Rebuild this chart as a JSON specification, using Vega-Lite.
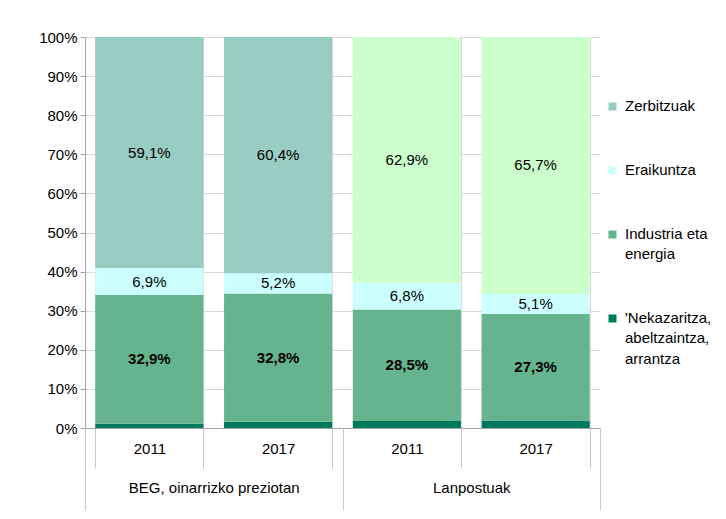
{
  "$schema": "https://vega.github.io/schema/vega-lite/v6.json",
  "width": 515,
  "height": 391,
  "padding": {"left": 38, "top": 30, "right": 5, "bottom": 5},
  "background": "white",
  "config": {
    "locale": {"number": {"decimal": ",", "thousands": ".", "grouping": [3], "currency": ["", " €"]}},
    "font": "Liberation Sans",
    "view": {"stroke": null},
    "axis": {"labelFontSize": 15, "labelColor": "#000", "labelFont": "Liberation Sans"}
  },
  "data": {
    "values": [
      {"key": "BEG 2011", "group": "BEG, oinarrizko preziotan", "sector": "'Nekazaritza, abeltzaintza, arrantza", "value": 0.011},
      {"key": "BEG 2011", "group": "BEG, oinarrizko preziotan", "sector": "Industria eta energia", "value": 0.329},
      {"key": "BEG 2011", "group": "BEG, oinarrizko preziotan", "sector": "Eraikuntza", "value": 0.069},
      {"key": "BEG 2011", "group": "BEG, oinarrizko preziotan", "sector": "Zerbitzuak", "value": 0.591},
      {"key": "BEG 2017", "group": "BEG, oinarrizko preziotan", "sector": "'Nekazaritza, abeltzaintza, arrantza", "value": 0.016},
      {"key": "BEG 2017", "group": "BEG, oinarrizko preziotan", "sector": "Industria eta energia", "value": 0.328},
      {"key": "BEG 2017", "group": "BEG, oinarrizko preziotan", "sector": "Eraikuntza", "value": 0.052},
      {"key": "BEG 2017", "group": "BEG, oinarrizko preziotan", "sector": "Zerbitzuak", "value": 0.604},
      {"key": "Lanpostuak 2011", "group": "Lanpostuak", "sector": "'Nekazaritza, abeltzaintza, arrantza", "value": 0.018},
      {"key": "Lanpostuak 2011", "group": "Lanpostuak", "sector": "Industria eta energia", "value": 0.285},
      {"key": "Lanpostuak 2011", "group": "Lanpostuak", "sector": "Eraikuntza", "value": 0.068},
      {"key": "Lanpostuak 2011", "group": "Lanpostuak", "sector": "Zerbitzuak", "value": 0.629},
      {"key": "Lanpostuak 2017", "group": "Lanpostuak", "sector": "'Nekazaritza, abeltzaintza, arrantza", "value": 0.019},
      {"key": "Lanpostuak 2017", "group": "Lanpostuak", "sector": "Industria eta energia", "value": 0.273},
      {"key": "Lanpostuak 2017", "group": "Lanpostuak", "sector": "Eraikuntza", "value": 0.051},
      {"key": "Lanpostuak 2017", "group": "Lanpostuak", "sector": "Zerbitzuak", "value": 0.657}
    ]
  },
  "transform": [
    {"calculate": "indexof(['\\'Nekazaritza, abeltzaintza, arrantza', 'Industria eta energia', 'Eraikuntza', 'Zerbitzuak'], datum.sector)", "as": "stackOrder"}
  ],
  "layer": [
    {
      "mark": {"type": "bar"},
      "encoding": {
        "x": {
          "field": "key", "type": "nominal",
          "scale": {"paddingInner": 0.16, "paddingOuter": 0.08},
          "axis": {"title": null, "labelExpr": "slice(datum.label, -4)", "labelAngle": 0, "tickBand": "extent", "tickSize": 40, "labelPadding": -27, "grid": true, "gridColor": "#d9d9d9", "domainColor": "#a6a6a6", "tickColor": "#c8c8c8"}
        },
        "y": {
          "field": "value", "type": "quantitative", "stack": "zero",
          "scale": {"domain": [0, 1], "nice": false},
          "axis": {"title": null, "format": ".0%", "values": [0, 0.1, 0.2, 0.3, 0.4, 0.5, 0.6, 0.7, 0.8, 0.9, 1], "grid": true, "gridColor": "#d9d9d9", "domainColor": "#a6a6a6", "tickColor": "#a6a6a6", "tickSize": 5, "labelPadding": 3, "labelOverlap": false}
        },
        "order": {"field": "stackOrder", "type": "quantitative", "sort": "ascending"},
        "color": {
          "condition": {"test": "datum.group === 'Lanpostuak' && datum.sector === 'Zerbitzuak'", "value": "#CCFFCC"},
          "field": "sector", "type": "nominal",
          "scale": {"domain": ["Zerbitzuak", "Eraikuntza", "Industria eta energia", "'Nekazaritza, abeltzaintza, arrantza"], "range": ["#99CCC2", "#CCFFFF", "#66B48E", "#007A5C"]},
          "legend": {
            "title": null, "orient": "none", "legendX": 520, "legendY": 62,
            "values": ["Zerbitzuak", "Eraikuntza", "Industria eta energia", "'Nekazaritza, abeltzaintza, arrantza"],
            "symbolType": "square", "symbolSize": 64, "symbolStrokeWidth": 0,
            "labelFontSize": 15, "labelFont": "Liberation Sans", "labelColor": "#000", "labelLimit": 200,
            "rowPadding": 48, "labelOffset": 5, "labelBaseline": "top",
            "labelExpr": "datum.label === 'Industria eta energia' ? ['Industria eta', 'energia'] : datum.label === \"'Nekazaritza, abeltzaintza, arrantza\" ? [\"'Nekazaritza,\", 'abeltzaintza,', 'arrantza'] : datum.label",
            "encode": {"labels": {"update": {"lineHeight": {"value": 20.5}, "dy": {"value": -8}}}}
          }
        }
      }
    },
    {
      "mark": {"type": "text", "fontSize": 15, "font": "Liberation Sans", "color": "#000"},
      "encoding": {
        "x": {"field": "key", "type": "nominal", "scale": {"paddingInner": 0.16, "paddingOuter": 0.08}, "axis": null},
        "y": {"field": "value", "type": "quantitative", "stack": "zero", "bandPosition": 0.5, "axis": null},
        "order": {"field": "stackOrder", "type": "quantitative", "sort": "ascending"},
        "detail": {"field": "sector", "type": "nominal"},
        "text": {
          "condition": {"test": "datum.sector === 'Zerbitzuak' || datum.sector === 'Eraikuntza'", "field": "value", "type": "quantitative", "format": ".1%"},
          "value": ""
        }
      }
    },
    {
      "mark": {"type": "text", "fontSize": 15, "font": "Liberation Sans", "fontWeight": "bold", "color": "#000"},
      "encoding": {
        "x": {"field": "key", "type": "nominal", "scale": {"paddingInner": 0.16, "paddingOuter": 0.08}, "axis": null},
        "y": {"field": "value", "type": "quantitative", "stack": "zero", "bandPosition": 0.5, "axis": null},
        "order": {"field": "stackOrder", "type": "quantitative", "sort": "ascending"},
        "detail": {"field": "sector", "type": "nominal"},
        "text": {
          "condition": {"test": "datum.sector === 'Industria eta energia'", "field": "value", "type": "quantitative", "format": ".1%"},
          "value": ""
        }
      }
    },
    {
      "mark": {"type": "point", "opacity": 0},
      "encoding": {
        "x": {
          "field": "group", "type": "nominal",
          "scale": {"paddingInner": 0, "paddingOuter": 0},
          "axis": {"title": null, "orient": "bottom", "domain": false, "tickBand": "extent", "tickSize": 82, "labelPadding": -30, "labelAngle": 0, "grid": false, "tickColor": "#c8c8c8"}
        }
      }
    }
  ],
  "resolve": {"scale": {"x": "independent"}, "axis": {"x": "independent", "y": "independent"}}
}
